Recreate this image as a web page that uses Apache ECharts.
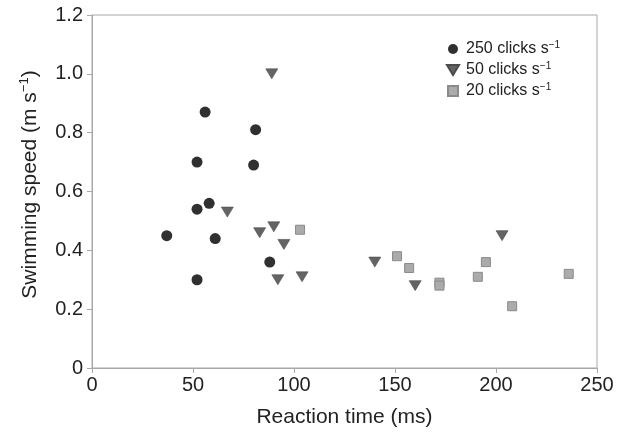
<!DOCTYPE html>
<html>
<head>
<meta charset="utf-8">
<script src="https://cdn.jsdelivr.net/npm/echarts@6/dist/echarts.min.js"></script>
<style>
  html, body { margin: 0; padding: 0; background: #fff; }
  #chart { width: 626px; height: 433px; }
</style>
</head>
<body>
<div id="chart"></div>
<script>
(function () {
  // [reaction time (ms), swimming speed (m/s)]
  const clicks250 = [
    [56, 0.87], [81, 0.81], [52, 0.70], [80, 0.69], [58, 0.56],
    [52, 0.54], [37, 0.45], [61, 0.44], [88, 0.36], [52, 0.30]
  ];
  const clicks50 = [
    [89, 1.00], [67, 0.53], [83, 0.46], [90, 0.48], [95, 0.42],
    [92, 0.30], [104, 0.31], [140, 0.36], [160, 0.28], [203, 0.45]
  ];
  const clicks20 = [
    [103, 0.47], [151, 0.38], [157, 0.34], [172, 0.29], [172, 0.28],
    [195, 0.36], [191, 0.31], [208, 0.21], [236, 0.32]
  ];
  const seriesNames = ['250 clicks', '50 clicks', '20 clicks'];

  const font = '"Liberation Sans", Arial, sans-serif';
  const textColor = '#222';
  const axisColor = '#a8a8a8';
  const downTriangle = 'path://M0,0L12,0L6,10Z';
  const square = 'path://M0,0L10,0L10,10L0,10Z';

  const chart = echarts.init(document.getElementById('chart'));

  chart.setOption({
    animation: false,
    textStyle: { fontFamily: font },
    grid: {
      left: 92, right: 29, top: 15, bottom: 65,
      show: true, borderColor: axisColor, borderWidth: 1
    },
    legend: {
      orient: 'vertical',
      left: 441, top: 35,
      itemGap: 4,
      itemWidth: 16, itemHeight: 10,
      data: [
        { name: seriesNames[0], icon: 'circle' },
        { name: seriesNames[1], icon: downTriangle },
        { name: seriesNames[2], icon: square }
      ],
      formatter: (name) => '{a|' + name + ' s}{sup|\u22121}',
      textStyle: {
        fontFamily: font,
        color: textColor,
        rich: {
          a: { fontSize: 16, fontFamily: font, color: textColor, lineHeight: 18 },
          sup: { fontSize: 10, fontFamily: font, color: textColor, verticalAlign: 'top', lineHeight: 18, padding: [0, 0, 6, 0] }
        }
      }
    },
    xAxis: {
      type: 'value',
      min: 0, max: 250, interval: 50,
      name: 'Reaction time (ms)',
      nameLocation: 'middle',
      nameGap: 39,
      nameTextStyle: { fontSize: 21, color: textColor, fontFamily: font },
      axisLine: { show: true, lineStyle: { color: axisColor } },
      axisTick: { show: true, length: 5, lineStyle: { color: axisColor } },
      axisLabel: { fontSize: 20, color: textColor, fontFamily: font, margin: 7 },
      splitLine: { show: false }
    },
    yAxis: {
      type: 'value',
      min: 0, max: 1.2, interval: 0.2,
      name: '{a|Swimming speed (m s}{sup|\u22121}{a|)}',
      nameLocation: 'middle',
      nameGap: 50,
      nameRotate: 90,
      nameTextStyle: {
        fontFamily: font,
        padding: [0, 0, 0, 14],
        rich: {
          a: { fontSize: 21, fontFamily: font, color: textColor, lineHeight: 24 },
          sup: { fontSize: 13, fontFamily: font, color: textColor, verticalAlign: 'top', lineHeight: 24, padding: [0, 0, 9, 0] }
        }
      },
      axisLine: { show: true, lineStyle: { color: axisColor } },
      axisTick: { show: true, length: 5, lineStyle: { color: axisColor } },
      axisLabel: {
        fontSize: 20, color: textColor, fontFamily: font, margin: 9,
        formatter: (v) => (v === 0 ? '0' : v.toFixed(1))
      },
      splitLine: { show: false }
    },
    series: [
      {
        name: seriesNames[0],
        type: 'scatter',
        symbol: 'circle',
        symbolSize: 11,
        data: clicks250,
        itemStyle: { color: '#303030', opacity: 1 }
      },
      {
        name: seriesNames[1],
        type: 'scatter',
        symbol: downTriangle,
        symbolSize: [12, 10],
        data: clicks50,
        itemStyle: { color: '#646464', borderColor: '#4c4c4c', borderWidth: 0.6, opacity: 1 }
      },
      {
        name: seriesNames[2],
        type: 'scatter',
        symbol: square,
        symbolSize: 9,
        data: clicks20,
        itemStyle: { color: '#ababab', borderColor: '#8a8a8a', borderWidth: 1, opacity: 1 }
      }
    ]
  });

  window.addEventListener('resize', () => chart.resize());
})();
</script>
</body>
</html>
